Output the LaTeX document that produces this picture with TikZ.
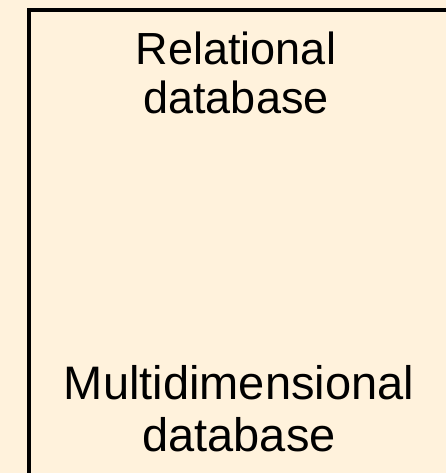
\documentclass[tikz,border=0pt]{standalone}
\usepackage{fontspec}
\setmainfont{Liberation Sans}
\definecolor{cream}{RGB}{255,242,220}
\tikzset{
  lbl/.style={align=center, inner sep=0pt, text=black},
  frame/.style={draw=black, line width=4pt}
}
\begin{document}
\begin{tikzpicture}[x=1pt,y=-1pt]
\fill[cream] (0,0) rectangle (446,473);
\useasboundingbox (0,0) rectangle (446,473);
\begin{scope}
\clip (0,0) rectangle (446,473);
\draw[frame] (29,10) rectangle (450,480);
\end{scope}
\node[lbl, font=\fontsize{45}{49}\selectfont] (rel) at (236,73) {Relational\\database};
\node[lbl, font=\fontsize{47}{52}\selectfont] (multi) at (239,409) {Multidimensional\\database};
\end{tikzpicture}
\end{document}
